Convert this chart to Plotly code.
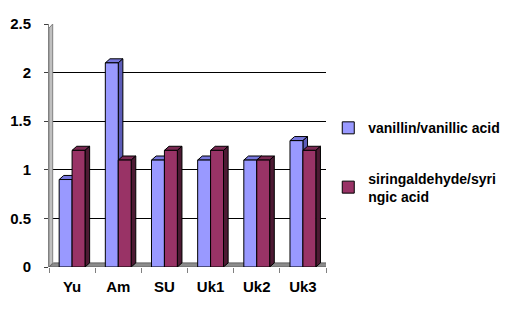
import plotly.graph_objects as go

categories = ["Yu", "Am", "SU", "Uk1", "Uk2", "Uk3"]
vanillin = [0.9, 2.1, 1.1, 1.1, 1.1, 1.3]
siringaldehyde = [1.2, 1.1, 1.2, 1.2, 1.1, 1.2]
series_names = ["vanillin/vanillic acid", "siringaldehyde/syri<br>ngic acid"]
y_tickvals = [0, 0.5, 1, 1.5, 2, 2.5]
y_ticktext = ["0", "0.5", "1", "1.5", "2", "2.5"]

front_colors = ["#9999FF", "#993366"]
top_colors = ["#7777DD", "#7A2952"]
side_colors = ["#5C5CB8", "#4D1A33"]

BARW = 0.28
DX = 0.1
DY = 0.042
FONT = "Liberation Sans, Arial, sans-serif"

xs = list(range(len(categories)))
series = [vanillin, siringaldehyde]

fig = go.Figure()
shapes = []

# back wall and floor
n = len(categories)
shapes.append(dict(type="path", xref="x", yref="y", layer="between",
                   path=f"M -0.5,0 L -0.5,{2.5-DY} L {-0.5+DX*0.8},2.5 L {-0.5+DX*0.8},{DY} Z",
                   fillcolor="#C0C0C0", line=dict(color="#808080", width=1)))
shapes.append(dict(type="path", xref="x", yref="y", layer="between",
                   path=f"M -0.5,0 L {n-0.5},0 L {n-0.5+DX},{DY} L {-0.5+DX},{DY} Z",
                   fillcolor="#8C8C8C", line=dict(color="#606060", width=1)))

for s, vals in enumerate(series):
    fig.add_trace(go.Bar(
        x=xs, y=vals, name=series_names[s], width=BARW, offset=-BARW + s * BARW,
        marker=dict(color=front_colors[s], line=dict(color="black", width=1)),
        legendgroup=f"g{s}", hoverinfo="skip"))
    for i, v in zip(xs, vals):
        x0 = i - BARW + s * BARW
        x1 = x0 + BARW
        shapes.append(dict(type="path", xref="x", yref="y", layer="between",
                           path=f"M {x0},{v} L {x1},{v} L {x1+DX},{v+DY} L {x0+DX},{v+DY} Z",
                           fillcolor=top_colors[s], line=dict(color="black", width=1)))
        shapes.append(dict(type="path", xref="x", yref="y", layer="between",
                           path=f"M {x1},0 L {x1},{v} L {x1+DX},{v+DY} L {x1+DX},{DY} Z",
                           fillcolor=side_colors[s], line=dict(color="black", width=1)))

fig.update_layout(
    width=525, height=313,
    margin=dict(l=41, r=207, t=16, b=54, autoexpand=False),
    paper_bgcolor="white", plot_bgcolor="white",
    barmode="overlay",
    shapes=shapes,
    showlegend=True,
    legend=dict(xref="container", yref="container", x=0.61, y=0.667,
                xanchor="left", yanchor="top", tracegroupgap=29,
                font=dict(family=FONT, size=14, color="black", weight="bold"),
                bgcolor="rgba(0,0,0,0)"),
    xaxis=dict(range=[-0.5, n - 0.5], tickvals=xs, ticktext=categories,
               ticks="", showgrid=False, zeroline=False, showline=False,
               automargin=False, ticklabelstandoff=9,
               tickfont=dict(family=FONT, size=15, color="black", weight="bold"),
               minor=dict(tickvals=[i - 0.5 for i in range(n + 1)], ticks="outside",
                          ticklen=5, tickcolor="#808080", showgrid=False)),
    yaxis=dict(range=[0, 2.5], tickvals=y_tickvals, ticktext=y_ticktext,
               ticks="outside", ticklen=4, tickcolor="#404040",
               showgrid=True, gridcolor="black", gridwidth=1, zeroline=False,
               showline=True, linecolor="#808080", linewidth=1,
               automargin=False, ticklabelstandoff=10,
               tickfont=dict(family=FONT, size=15, color="black", weight="bold")),
)

fig.write_html("out.html")
